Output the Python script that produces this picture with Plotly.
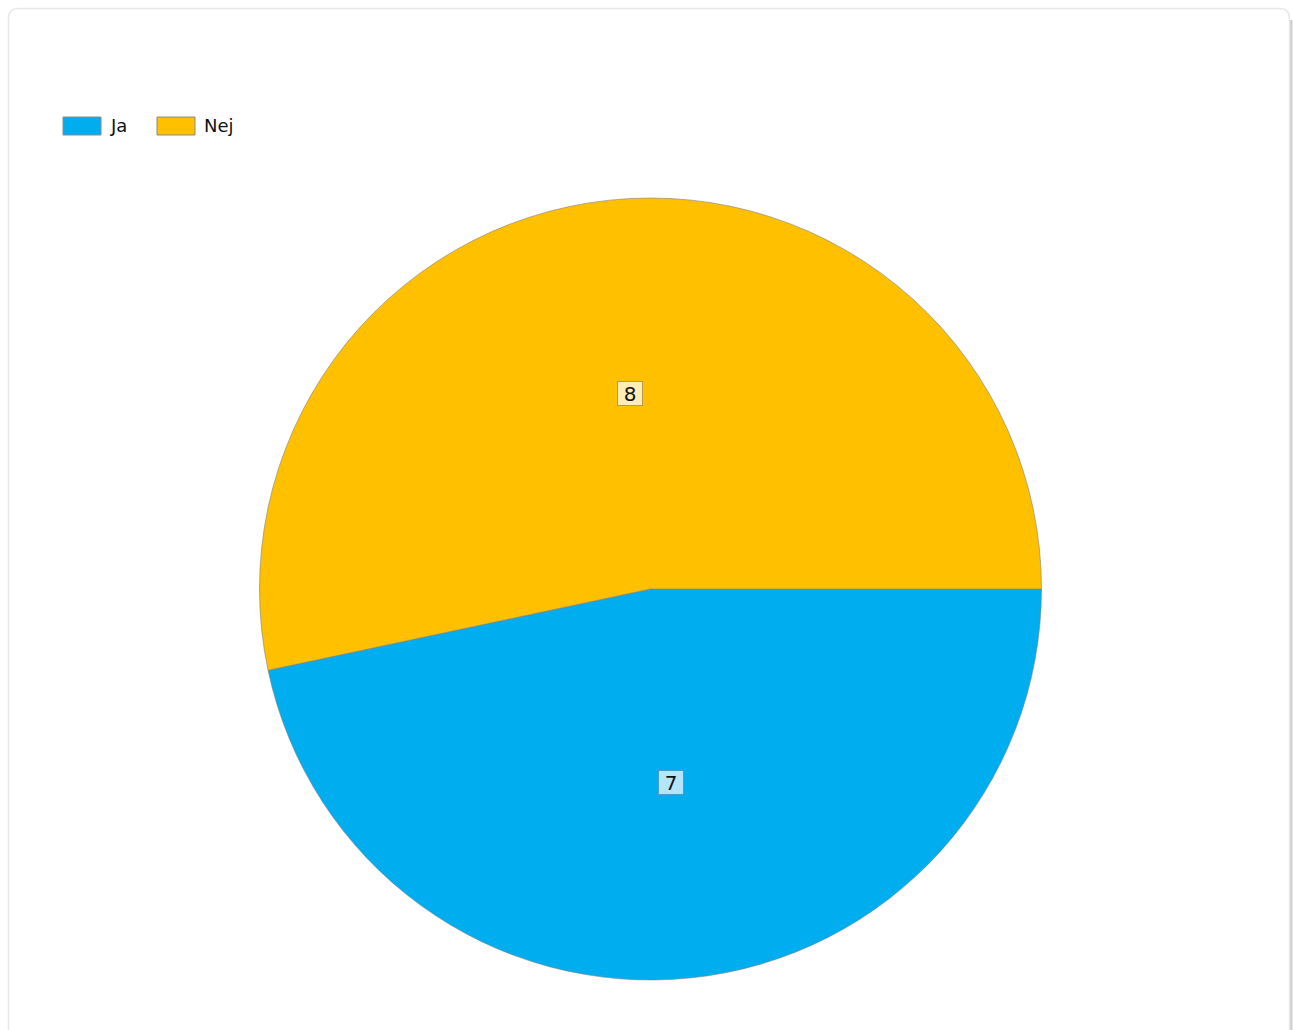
import math
import plotly.graph_objects as go

# Data
labels = ["Ja", "Nej"]
values = [7, 8]
colors = ["#00AEEF", "#FFC000"]
label_bg = ["#B3E6FA", "#FFEDB8"]
label_border = ["#4A9CC0", "#B89A4A"]

W, H = 1293, 1030

def px(x):
    return x / W

def py(y):
    return 1 - y / H

# pie geometry (pixels)
cx, cy, R = 650.5, 589.0, 391.0

fig = go.Figure()
fig.add_trace(go.Pie(
    labels=labels,
    values=values,
    marker=dict(colors=colors, line=dict(color="#7f7f7f", width=0.6)),
    sort=False,
    direction="clockwise",
    rotation=90,
    textinfo="none",
    hoverinfo="label+value",
    showlegend=False,
    domain=dict(x=[px(cx - R), px(cx + R)], y=[py(cy + R), py(cy - R)]),
))

annotations = []
total = sum(values)
start = 0.0  # degrees clockwise from 3 o'clock
for v, bg, bc in zip(values, label_bg, label_border):
    span = 360.0 * v / total
    mid = start + span / 2
    a = math.radians(mid)
    lx = cx + 0.5 * R * math.cos(a)
    ly = cy + 0.5 * R * math.sin(a) - 1
    annotations.append(dict(
        x=px(lx), y=py(ly), xref="paper", yref="paper",
        text=str(v), showarrow=False,
        font=dict(family="DejaVu Sans", size=20, color="#111111"),
        bgcolor=bg, bordercolor=bc, borderwidth=1, borderpad=0,
        width=24, height=23, xanchor="center", yanchor="middle",
    ))
    start += span

shapes = []
# card shadow on right
shapes.append(dict(type="rect", xref="paper", yref="paper",
                   x0=px(1289), x1=px(1292.5), y0=py(1030), y1=py(20),
                   fillcolor="#d0d0d0", line=dict(width=0), layer="below"))
# card with rounded corners
x0, y0, x1, y1, r = 8.5, 8.5, 1289.5, 1040, 10
path = (f"M{px(x0 + r)},{py(y0)} L{px(x1 - r)},{py(y0)} "
        f"Q{px(x1)},{py(y0)} {px(x1)},{py(y0 + r)} "
        f"L{px(x1)},{py(y1)} L{px(x0)},{py(y1)} "
        f"L{px(x0)},{py(y0 + r)} Q{px(x0)},{py(y0)} {px(x0 + r)},{py(y0)} Z")
shapes.append(dict(type="path", xref="paper", yref="paper", path=path,
                   fillcolor="#ffffff", line=dict(color="#e8e8e8", width=1.5),
                   layer="below"))

# legend (manual)
legend_x = [63, 157]
for i, (lab, col) in enumerate(zip(labels, colors)):
    lx = legend_x[i]
    shapes.append(dict(type="rect", xref="paper", yref="paper",
                       x0=px(lx), x1=px(lx + 38), y0=py(135), y1=py(117),
                       fillcolor=col, line=dict(color="#8a8a8a", width=1)))
    annotations.append(dict(
        x=px(lx + 45), y=py(126), xref="paper", yref="paper",
        text=lab, showarrow=False, xanchor="left", yanchor="middle",
        font=dict(family="DejaVu Sans", size=18, color="#111111"),
    ))

fig.update_layout(
    width=W, height=H,
    margin=dict(l=0, r=0, t=0, b=0),
    paper_bgcolor="#ffffff",
    plot_bgcolor="#ffffff",
    showlegend=False,
    shapes=shapes,
    annotations=annotations,
    font=dict(family="DejaVu Sans"),
)

fig.write_html("out.html", config={"displayModeBar": False},
               post_script="document.body.style.margin='0';document.body.style.overflow='hidden';")
